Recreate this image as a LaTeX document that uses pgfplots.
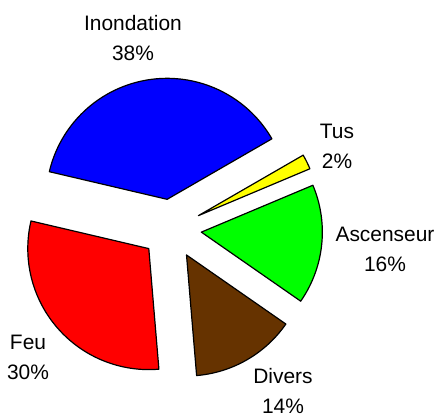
\documentclass[border=0pt]{standalone}
\usepackage{fontspec}
\setmainfont{Liberation Sans}
\usepackage{pgfplots}
\pgfplotsset{compat=1.18}
\definecolor{cInond}{RGB}{0,0,255}
\definecolor{cFeu}{RGB}{255,0,0}
\definecolor{cDivers}{RGB}{102,51,0}
\definecolor{cAsc}{RGB}{0,255,0}
\definecolor{cTus}{RGB}{255,255,0}
% pie geometry (axis units = bp)
\def\pieX{171.5}\def\pieY{189}\def\pieR{121}\def\pieE{30}\def\pieStart{30}
% #1 cumulative percent before slice, #2 percent, #3 colour
\newcommand\pieslice[3]{%
  \pgfmathsetmacro\aS{\pieStart+3.6*#1}%
  \pgfmathsetmacro\aE{\pieStart+3.6*(#1+#2)}%
  \pgfmathsetmacro\aM{(\aS+\aE)/2}%
  \pgfmathsetmacro\cx{\pieX+\pieE*cos(\aM)}%
  \pgfmathsetmacro\cy{\pieY+\pieE*sin(\aM)}%
  \edef\temp{\noexpand\addplot[fill=#3, draw=black, line width=1.2pt, line join=round, domain=\aS:\aE, samples=80, variable=\noexpand\t]
    ({\cx+\pieR*cos(\noexpand\t)},{\cy+\pieR*sin(\noexpand\t)}) -- (axis cs:\cx,\cy) -- cycle;}%
  \temp}
\begin{document}
\begin{tikzpicture}
\clip (0,0) rectangle (443bp,418bp);
\begin{axis}[at={(0,0)}, anchor=south west, width=443bp, height=418bp, scale only axis,
  xmin=0, xmax=443, ymin=0, ymax=418, hide axis, clip=false]
% percentages: Inondation 38, Feu 30, Divers 14, Ascenseur 16, Tus 2
\pieslice{0}{38}{cInond}
\pieslice{38}{30}{cFeu}
\pieslice{68}{14}{cDivers}
\pieslice{82}{16}{cAsc}
\pieslice{98}{2}{cTus}
\begin{scope}[every node/.style={align=center, font=\fontsize{21}{30}\selectfont, inner sep=0pt}]
\node at (axis cs:133,380) {Inondation\\38\%};
\node at (axis cs:337,271.5) {Tus\\2\%};
\node at (axis cs:385,168.5) {Ascenseur\\16\%};
\node at (axis cs:283,27) {Divers\\14\%};
\node at (axis cs:28,60.5) {Feu\\30\%};
\end{scope}
\end{axis}
\end{tikzpicture}
\end{document}
